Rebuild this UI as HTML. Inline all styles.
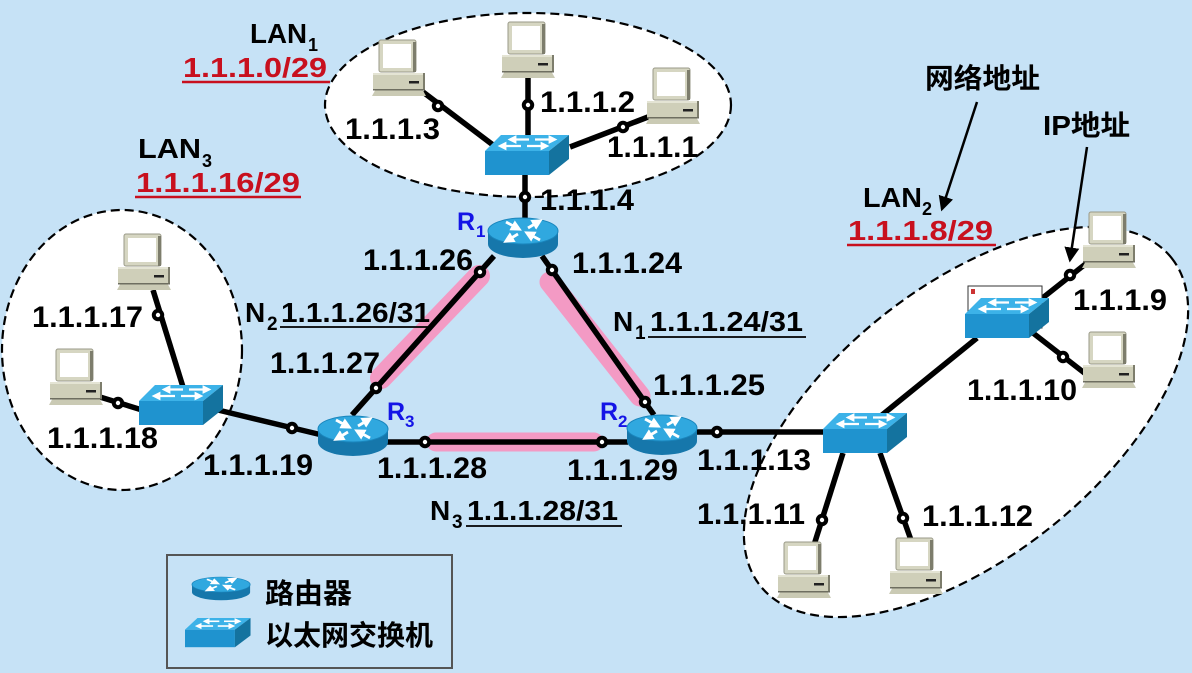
<!DOCTYPE html>
<html><head><meta charset="utf-8">
<style>
html,body{margin:0;padding:0;background:#c6e2f6;}
svg{display:block;}
text{font-family:"Liberation Sans","Noto Sans CJK SC",sans-serif;font-weight:bold;}
</style></head>
<body>
<svg width="1192" height="673" viewBox="0 0 1192 673" xmlns="http://www.w3.org/2000/svg">
<defs>
  <g id="pc">
    <rect x="6" y="0" width="37" height="32" rx="2" fill="#d6d6c2" stroke="#9a9a88" stroke-width="1"/>
    <rect x="40" y="2" width="3" height="30" fill="#7d7d6c"/>
    <rect x="10" y="4" width="28" height="24" fill="#ffffff"/>
    <rect x="0" y="33" width="52" height="16" fill="#cfcfb9"/>
    <rect x="0" y="33" width="52" height="2" fill="#e4e4d4"/>
    <rect x="50" y="33" width="2" height="16" fill="#7d7d6c"/>
    <rect x="36" y="41" width="10" height="2.5" fill="#222"/>
    <rect x="0" y="49" width="52" height="1.5" fill="#6e6e60"/>
    <polygon points="2,50.5 50,50.5 53,56 -1,56" fill="#cacab4"/>
  </g>
  <marker id="wa" markerWidth="4" markerHeight="4" refX="2" refY="2" orient="auto" markerUnits="strokeWidth">
    <path d="M0,0 L4,2 L0,4 z" fill="#fff"/>
  </marker>
  <g id="sw">
    <polygon points="16,0 84,0 64,16 0,16" fill="#3cb2e8"/>
    <rect x="0" y="16" width="64" height="24" fill="#1f93cf"/>
    <polygon points="64,16 84,0 84,24 64,40" fill="#14739f"/>
    <g stroke="#fff" stroke-width="2.2" marker-end="url(#wa)">
      <line x1="44" y1="4.5" x2="27" y2="4.5"/>
      <line x1="50" y1="4.5" x2="68" y2="4.5"/>
      <line x1="36" y1="11" x2="17" y2="11"/>
      <line x1="42" y1="11" x2="60" y2="11"/>
    </g>
  </g>
  <g id="rt">
    <ellipse cx="35" cy="26" rx="35" ry="14" fill="#1677ab"/>
    <rect x="0" y="13" width="70" height="13" fill="#1677ab"/>
    <ellipse cx="35" cy="13" rx="35" ry="13" fill="#30a8df" stroke="#1a86bd" stroke-width="1"/>
    <g stroke="#fff" stroke-width="2.8" marker-end="url(#wa)">
      <line x1="18" y1="4" x2="29" y2="10"/>
      <line x1="52" y1="22" x2="41" y2="16"/>
      <line x1="40" y1="10" x2="50" y2="4"/>
      <line x1="30" y1="16" x2="20" y2="22"/>
    </g>
  </g>
  <marker id="ba" markerWidth="6" markerHeight="6" refX="5" refY="3" orient="auto" markerUnits="strokeWidth">
    <path d="M0,0 L6,3 L0,6 z" fill="#000"/>
  </marker>
</defs>

<!-- LAN ellipses -->
<g fill="#fff" stroke="#000" stroke-width="2.2" stroke-dasharray="9 5">
  <ellipse cx="528" cy="105" rx="203" ry="92"/>
  <ellipse cx="122" cy="350" rx="120" ry="140"/>
  <ellipse cx="966" cy="422" rx="263" ry="135" transform="rotate(-38.6 966 422)"/>
</g>

<!-- pink highlights -->
<g stroke="#f39ac4" stroke-linecap="round" fill="none">
  <line x1="479" y1="276" x2="381" y2="378" stroke-width="22"/>
  <line x1="550" y1="282" x2="640" y2="396" stroke-width="21"/>
  <line x1="436" y1="442" x2="594" y2="442" stroke-width="19"/>
</g>

<!-- links -->
<g stroke="#000" stroke-width="5.5" fill="none">
  <line x1="423" y1="92" x2="497" y2="148"/>
  <line x1="528" y1="76" x2="528" y2="137"/>
  <line x1="570" y1="147" x2="648" y2="117"/>
  <line x1="525" y1="173" x2="525" y2="222"/>
  <line x1="153" y1="290" x2="183" y2="387"/>
  <line x1="100" y1="397" x2="142" y2="410"/>
  <line x1="218" y1="410" x2="322" y2="435"/>
  <line x1="494" y1="256" x2="352" y2="415"/>
  <line x1="542" y1="256" x2="654" y2="415"/>
  <line x1="385" y1="442" x2="628" y2="442"/>
  <line x1="690" y1="432" x2="825" y2="432"/>
  <line x1="1040" y1="300" x2="1088" y2="262"/>
  <line x1="1033" y1="333" x2="1087" y2="375"/>
  <line x1="977" y1="338" x2="882" y2="415"/>
  <line x1="843" y1="453" x2="814" y2="545"/>
  <line x1="880" y1="453" x2="911" y2="540"/>
</g>

<!-- arrows -->
<g stroke="#000" stroke-width="2.5" marker-end="url(#ba)">
  <line x1="977" y1="102" x2="942" y2="209"/>
  <line x1="1087" y1="147" x2="1070" y2="260"/>
</g>

<!-- PCs -->
<use href="#pc" x="373" y="40"/>
<use href="#pc" x="502" y="22"/>
<use href="#pc" x="647" y="68"/>
<use href="#pc" x="118" y="234"/>
<use href="#pc" x="50" y="349"/>
<use href="#pc" x="1083" y="212"/>
<use href="#pc" x="1083" y="332"/>
<use href="#pc" x="778" y="542"/>
<use href="#pc" x="890" y="538"/>

<!-- small window artifact -->
<rect x="968" y="286" width="74" height="42" fill="#fff" stroke="#333" stroke-width="1"/>
<rect x="971" y="289" width="4" height="5" fill="#c33"/>

<!-- switches -->
<use href="#sw" x="485" y="135"/>
<use href="#sw" x="139" y="385"/>
<use href="#sw" x="965" y="298"/>
<use href="#sw" x="823" y="413"/>

<!-- routers -->
<use href="#rt" x="488" y="218"/>
<use href="#rt" x="318" y="416"/>
<use href="#rt" x="627" y="415"/>

<!-- dots -->
<g fill="#fff" stroke="#000" stroke-width="4">
  <circle cx="438" cy="106" r="4.2"/><circle cx="528" cy="105" r="4.2"/>
  <circle cx="623" cy="127" r="4.2"/><circle cx="525" cy="197" r="4.2"/>
  <circle cx="158" cy="315" r="4.2"/><circle cx="118" cy="403" r="4.2"/>
  <circle cx="292" cy="428" r="4.2"/>
  <circle cx="480" cy="272" r="4.2"/><circle cx="376" cy="388" r="4.2"/>
  <circle cx="552" cy="270" r="4.2"/><circle cx="645" cy="402" r="4.2"/>
  <circle cx="425" cy="442" r="4.2"/><circle cx="602" cy="442" r="4.2"/>
  <circle cx="717" cy="432" r="4.2"/>
  <circle cx="1070" cy="275" r="4.2"/><circle cx="1063" cy="357" r="4.2"/>
  <circle cx="822" cy="520" r="4.2"/><circle cx="903" cy="518" r="4.2"/>
</g>

<!-- IP labels -->
<g font-size="30" fill="#000">
  <text x="345" y="139" textLength="95" lengthAdjust="spacingAndGlyphs">1.1.1.3</text>
  <text x="540" y="112" textLength="95" lengthAdjust="spacingAndGlyphs">1.1.1.2</text>
  <text x="607" y="157" textLength="91" lengthAdjust="spacingAndGlyphs">1.1.1.1</text>
  <text x="540" y="210" textLength="94" lengthAdjust="spacingAndGlyphs">1.1.1.4</text>
  <text x="363" y="270" textLength="110" lengthAdjust="spacingAndGlyphs">1.1.1.26</text>
  <text x="572" y="273" textLength="110" lengthAdjust="spacingAndGlyphs">1.1.1.24</text>
  <text x="32" y="327" textLength="111" lengthAdjust="spacingAndGlyphs">1.1.1.17</text>
  <text x="270" y="373" textLength="110" lengthAdjust="spacingAndGlyphs">1.1.1.27</text>
  <text x="47" y="448" textLength="111" lengthAdjust="spacingAndGlyphs">1.1.1.18</text>
  <text x="203" y="475" textLength="110" lengthAdjust="spacingAndGlyphs">1.1.1.19</text>
  <text x="653" y="395" textLength="112" lengthAdjust="spacingAndGlyphs">1.1.1.25</text>
  <text x="377" y="478" textLength="110" lengthAdjust="spacingAndGlyphs">1.1.1.28</text>
  <text x="567" y="480" textLength="111" lengthAdjust="spacingAndGlyphs">1.1.1.29</text>
  <text x="697" y="470" textLength="114" lengthAdjust="spacingAndGlyphs">1.1.1.13</text>
  <text x="697" y="524" textLength="108" lengthAdjust="spacingAndGlyphs">1.1.1.11</text>
  <text x="922" y="526" textLength="111" lengthAdjust="spacingAndGlyphs">1.1.1.12</text>
  <text x="1073" y="310" textLength="94" lengthAdjust="spacingAndGlyphs">1.1.1.9</text>
  <text x="967" y="400" textLength="110" lengthAdjust="spacingAndGlyphs">1.1.1.10</text>
</g>

<!-- N labels -->
<g fill="#000">
  <text x="245" y="322" font-size="28">N</text>
  <text x="267" y="330" font-size="19">2</text>
  <text x="281" y="322" font-size="28" textLength="149" lengthAdjust="spacingAndGlyphs">1.1.1.26/31</text>
  <text x="613" y="331" font-size="28">N</text>
  <text x="635" y="339" font-size="19">1</text>
  <text x="650" y="331" font-size="28" textLength="153" lengthAdjust="spacingAndGlyphs">1.1.1.24/31</text>
  <text x="430" y="520" font-size="28">N</text>
  <text x="452" y="528" font-size="19">3</text>
  <text x="467" y="520" font-size="28" textLength="151" lengthAdjust="spacingAndGlyphs">1.1.1.28/31</text>
</g>
<g stroke="#000" stroke-width="1.8">
  <line x1="280" y1="327" x2="432" y2="327"/>
  <line x1="648" y1="337" x2="806" y2="337"/>
  <line x1="466" y1="526" x2="622" y2="526"/>
</g>

<!-- Router labels -->
<g fill="#1414e6">
  <text x="457" y="230" font-size="25">R</text>
  <text x="476" y="237" font-size="17">1</text>
  <text x="387" y="420" font-size="25">R</text>
  <text x="405" y="427" font-size="17">3</text>
  <text x="600" y="420" font-size="25">R</text>
  <text x="618" y="427" font-size="17">2</text>
</g>

<!-- LAN titles -->
<g fill="#000">
  <text x="250" y="43" font-size="28" textLength="57" lengthAdjust="spacingAndGlyphs">LAN</text>
  <text x="308" y="51" font-size="18">1</text>
  <text x="138" y="158" font-size="28" textLength="63" lengthAdjust="spacingAndGlyphs">LAN</text>
  <text x="202" y="167" font-size="18">3</text>
  <text x="863" y="207" font-size="28" textLength="59" lengthAdjust="spacingAndGlyphs">LAN</text>
  <text x="922" y="215" font-size="18">2</text>
</g>
<g fill="#c8101e" font-size="28">
  <text x="183" y="77" textLength="144" lengthAdjust="spacingAndGlyphs">1.1.1.0/29</text>
  <text x="136" y="192" textLength="164" lengthAdjust="spacingAndGlyphs">1.1.1.16/29</text>
  <text x="848" y="240" textLength="145" lengthAdjust="spacingAndGlyphs">1.1.1.8/29</text>
</g>
<g stroke="#c8101e" stroke-width="2.5">
  <line x1="182" y1="82" x2="330" y2="82"/>
  <line x1="135" y1="197" x2="301" y2="197"/>
  <line x1="847" y1="245" x2="996" y2="245"/>
</g>

<!-- Chinese annotations -->
<g fill="#000" font-size="28">
  <text x="925" y="88" textLength="115" lengthAdjust="spacingAndGlyphs">网络地址</text>
  <text x="1043" y="135" textLength="87" lengthAdjust="spacingAndGlyphs">IP地址</text>
</g>

<!-- Legend -->
<rect x="167" y="555" width="285" height="113" fill="#c6e2f6" stroke="#555" stroke-width="2"/>
<g transform="translate(192,577) scale(0.83,0.58)"><use href="#rt"/></g>
<g transform="translate(185,618) scale(0.78,0.73)"><use href="#sw"/></g>
<g fill="#000" font-size="28">
  <text x="265" y="603" textLength="87" lengthAdjust="spacingAndGlyphs">路由器</text>
  <text x="265" y="645" textLength="168" lengthAdjust="spacingAndGlyphs">以太网交换机</text>
</g>
</svg>
</body></html>
